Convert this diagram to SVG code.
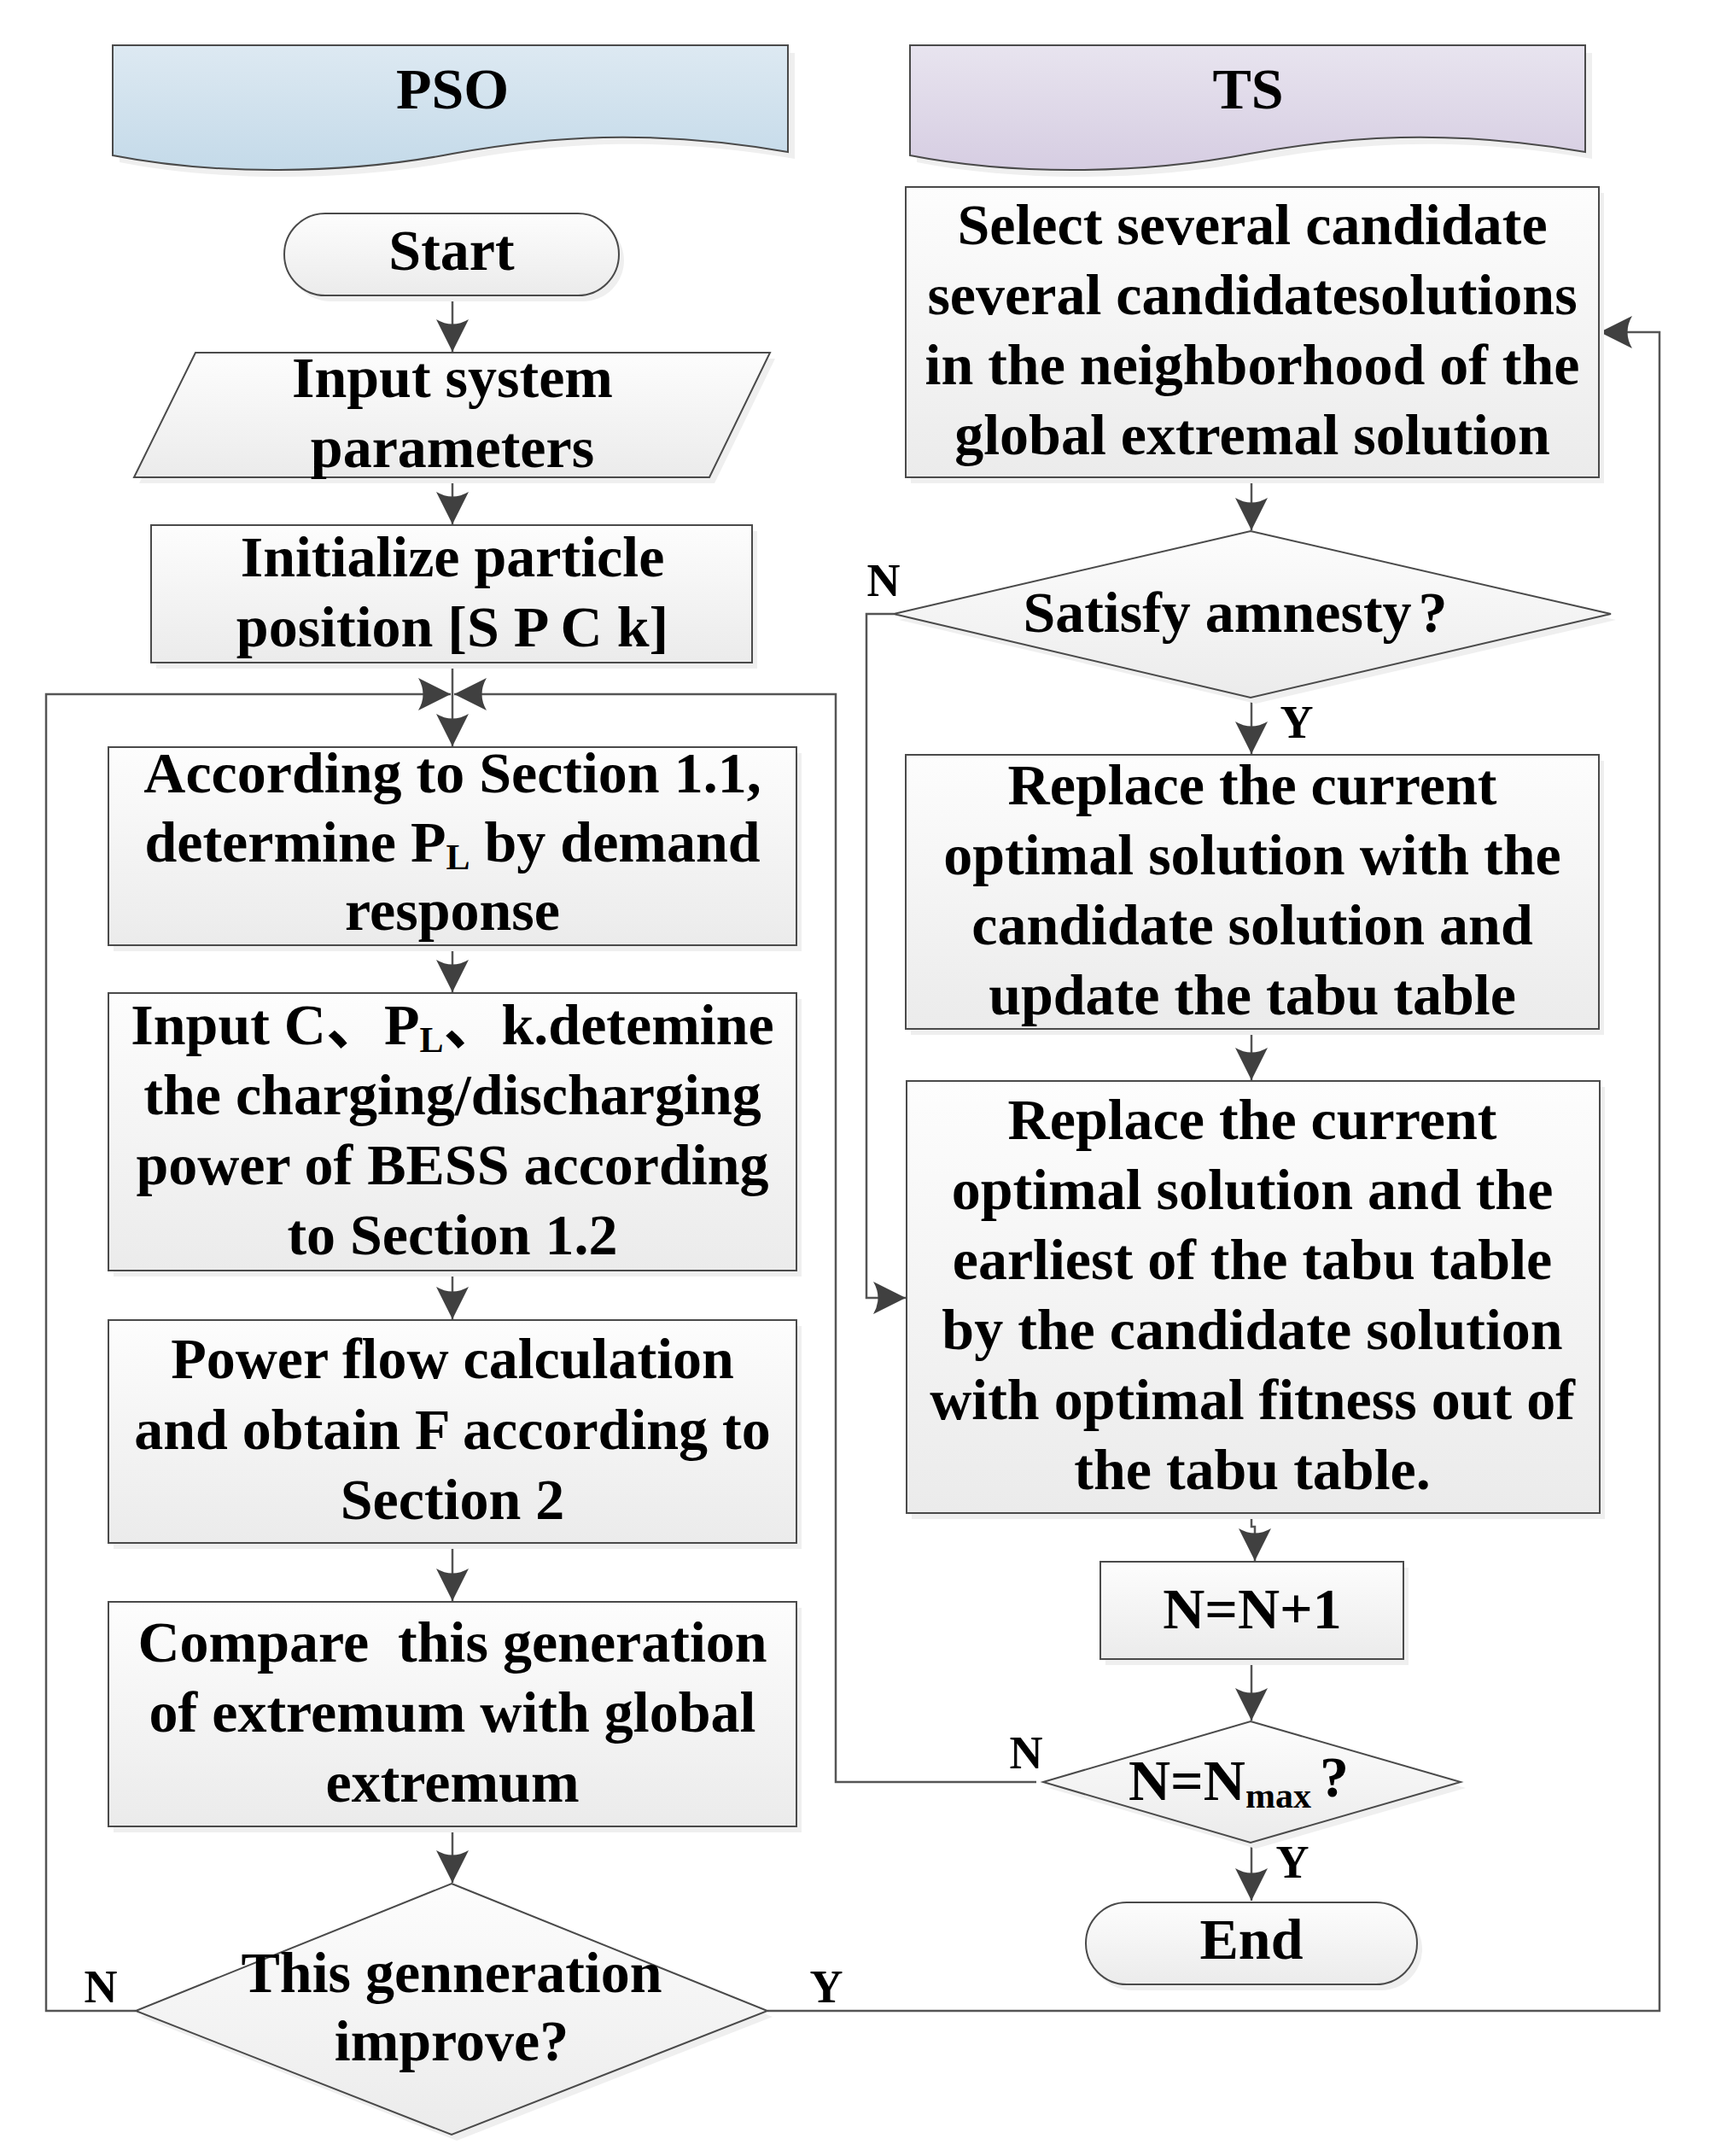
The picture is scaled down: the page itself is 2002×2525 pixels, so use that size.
<svg xmlns="http://www.w3.org/2000/svg" width="2002" height="2525" viewBox="0 0 2002 2525">
<defs>
<linearGradient id="gBox" x1="0" y1="0" x2="0" y2="1"><stop offset="0" stop-color="#fdfdfd"/><stop offset="1" stop-color="#ebebeb"/></linearGradient>
<linearGradient id="gPSO" x1="0" y1="0" x2="0" y2="1"><stop offset="0" stop-color="#dde9f2"/><stop offset="1" stop-color="#c4dae9"/></linearGradient>
<linearGradient id="gTS" x1="0" y1="0" x2="0" y2="1"><stop offset="0" stop-color="#e8e4ef"/><stop offset="1" stop-color="#d6cde2"/></linearGradient>
<marker id="ah" viewBox="-40 -20 42 40" markerWidth="42" markerHeight="40" refX="0" refY="0" orient="auto" markerUnits="userSpaceOnUse">
<path d="M0,0 L-38,-19 Q-27,0 -38,19 Z" fill="#404040"/>
</marker>
<style>
.box{fill:url(#gBox);stroke:#4a4a4a;stroke-width:2}
.sh{fill:#efefef;stroke:none}
.t{font-family:"Liberation Serif","Times New Roman",serif;font-weight:bold;font-size:68px;fill:#000;text-anchor:middle}
.cjk{font-family:"Liberation Serif","Times New Roman","Noto Sans CJK SC",serif}
.lab{font-family:"Liberation Serif","Times New Roman",serif;font-weight:bold;font-size:54px;fill:#000;text-anchor:middle}
.sub{font-size:42px}
.con{fill:none;stroke:#555;stroke-width:2.5}
.arr{marker-end:url(#ah)}
</style>
</defs>
<rect x="0" y="0" width="2002" height="2525" fill="#fff"/>

<g id="pso-header">
<path d="M140,62 H931 V186 C768,158 648,168 538,188 C408,213 258,213 140,190 Z" class="sh"/>
<path d="M132,53 H923 V178 C760,150 640,160 530,180 C400,205 250,205 132,182 Z" fill="url(#gPSO)" stroke="#4a4a4a" stroke-width="2"/>
<text class="t" x="530" y="127">PSO</text>
</g>
<g id="ts-header">
<path d="M1074,62 H1865 V186 C1702,158 1582,168 1472,188 C1342,213 1192,213 1074,190 Z" class="sh"/>
<path d="M1066,53 H1857 V178 C1694,150 1574,160 1464,180 C1334,205 1184,205 1066,182 Z" fill="url(#gTS)" stroke="#4a4a4a" stroke-width="2"/>
<text class="t" x="1462" y="127">TS</text>
</g>

<g id="connectors">
<path class="con arr" d="M530,346 V412"/>
<path class="con arr" d="M530,559 V614"/>
<path class="con arr" d="M530,776 V874"/>
<path class="con arr" d="M159,2355 H54 V813 H528"/>
<path class="con arr" d="M1214,2087 H979 V813 H532"/>
<path class="con arr" d="M530,1107 V1162"/>
<path class="con arr" d="M530,1488 V1545"/>
<path class="con arr" d="M530,1807 V1875"/>
<path class="con arr" d="M530,2139 V2205"/>
<path class="con arr" d="M899,2355 H1944 V389 H1874"/>
<path class="con arr" d="M1466,559 V621"/>
<path class="con arr" d="M1466,817 V883"/>
<path class="con arr" d="M1047,719 H1015 V1520 H1061"/>
<path class="con arr" d="M1466,1205 V1265"/>
<path class="con arr" d="M1466,1772 V1788 H1470 V1828"/>
<path class="con arr" d="M1466,1943 V2015"/>
<path class="con arr" d="M1466,2158 V2226"/>
</g>

<g id="start">
<rect x="339" y="257" width="392" height="96" rx="48" class="sh"/>
<rect x="333" y="250" width="392" height="96" rx="48" class="box"/>
<text class="t" x="529" y="316">Start</text>
</g>

<g id="input-params">
<path d="M235,420 H908 L837,566 H163 Z" class="sh"/>
<path d="M229,413 H902 L831,559 H157 Z" class="box"/>
<text class="t" x="530" y="465">Input system</text>
<text class="t" x="530" y="547">parameters</text>
</g>

<g id="initialize">
<rect x="183" y="622" width="704" height="161" class="sh"/>
<rect x="177" y="615" width="704" height="161" class="box"/>
<text class="t" x="530" y="675">Initialize particle</text>
<text class="t" x="530" y="757">position [S P C k]</text>
</g>

<g id="according">
<rect x="133" y="882" width="806" height="232" class="sh"/>
<rect x="127" y="875" width="806" height="232" class="box"/>
<text class="t" x="530" y="928">According to Section 1.1,</text>
<text class="t" x="530" y="1009">determine P<tspan class="sub" dy="9">L</tspan><tspan dy="-9"> by demand</tspan></text>
<text class="t" x="530" y="1089">response</text>
</g>

<g id="input-c">
<rect x="133" y="1170" width="806" height="325" class="sh"/>
<rect x="127" y="1163" width="806" height="325" class="box"/>
<text class="t cjk" x="530" y="1223">Input C、P<tspan class="sub" dy="9">L</tspan><tspan dy="-9">、k.detemine</tspan></text>
<text class="t" x="530" y="1305">the charging/discharging</text>
<text class="t" x="530" y="1387">power of BESS according</text>
<text class="t" x="530" y="1469">to Section 1.2</text>
</g>

<g id="power-flow">
<rect x="133" y="1553" width="806" height="261" class="sh"/>
<rect x="127" y="1546" width="806" height="261" class="box"/>
<text class="t" x="530" y="1614">Power flow calculation</text>
<text class="t" x="530" y="1697">and obtain F according to</text>
<text class="t" x="530" y="1779">Section 2</text>
</g>

<g id="compare">
<rect x="133" y="1883" width="806" height="263" class="sh"/>
<rect x="127" y="1876" width="806" height="263" class="box"/>
<text class="t" x="530" y="1946" xml:space="preserve">Compare  this generation</text>
<text class="t" x="530" y="2028">of extremum with global</text>
<text class="t" x="530" y="2110">extremum</text>
</g>

<g id="improve">
<path d="M535,2213 L905,2362 L535,2507 L165,2362 Z" class="sh"/>
<path d="M529,2206 L899,2355 L529,2500 L159,2355 Z" class="box"/>
<text class="t" x="529" y="2333">This genneration</text>
<text class="t" x="529" y="2413">improve?</text>
<text class="lab" x="118" y="2345">N</text>
<text class="lab" x="968" y="2345">Y</text>
</g>

<g id="select">
<rect x="1067" y="226" width="812" height="340" class="sh"/>
<rect x="1061" y="219" width="812" height="340" class="box"/>
<text class="t" x="1467" y="286">Select several candidate</text>
<text class="t" x="1467" y="368">several candidatesolutions</text>
<text class="t" x="1467" y="450">in the neighborhood of the</text>
<text class="t" x="1467" y="532">global extremal solution</text>
</g>

<g id="amnesty">
<path d="M1471,629 L1893,726 L1471,824 L1053,726 Z" class="sh"/>
<path d="M1465,622 L1887,719 L1465,817 L1047,719 Z" class="box"/>
<text class="t" x="1447" y="740">Satisfy amnesty<tspan dx="8">?</tspan></text>
<text class="lab" x="1035" y="698">N</text>
<text class="lab" x="1519" y="864">Y</text>
</g>

<g id="replace1">
<rect x="1067" y="891" width="812" height="321" class="sh"/>
<rect x="1061" y="884" width="812" height="321" class="box"/>
<text class="t" x="1467" y="942">Replace the current</text>
<text class="t" x="1467" y="1024">optimal solution with the</text>
<text class="t" x="1467" y="1106">candidate solution and</text>
<text class="t" x="1467" y="1188">update the tabu table</text>
</g>

<g id="replace2">
<rect x="1068" y="1273" width="812" height="506" class="sh"/>
<rect x="1062" y="1266" width="812" height="506" class="box"/>
<text class="t" x="1467" y="1334">Replace the current</text>
<text class="t" x="1467" y="1416">optimal solution and the</text>
<text class="t" x="1467" y="1498">earliest of the tabu table</text>
<text class="t" x="1467" y="1580">by the candidate solution</text>
<text class="t" x="1467" y="1662">with optimal fitness out of</text>
<text class="t" x="1467" y="1744">the tabu table.</text>
</g>

<g id="counter">
<rect x="1295" y="1836" width="355" height="114" class="sh"/>
<rect x="1289" y="1829" width="355" height="114" class="box"/>
<text class="t" x="1467" y="1907">N=N+1</text>
</g>

<g id="nmax">
<path d="M1471,2023 L1717,2094 L1471,2165 L1228,2094 Z" class="sh"/>
<path d="M1465,2016 L1711,2087 L1465,2158 L1222,2087 Z" class="box"/>
<text class="t" x="1322" y="2108" style="text-anchor:start">N=N<tspan class="sub" dy="9">max</tspan><tspan dx="10" dy="-13">?</tspan></text>
<text class="lab" x="1202" y="2071">N</text>
<text class="lab" x="1514" y="2199">Y</text>
</g>

<g id="end">
<rect x="1278" y="2235" width="388" height="96" rx="48" class="sh"/>
<rect x="1272" y="2228" width="388" height="96" rx="48" class="box"/>
<text class="t" x="1466" y="2294">End</text>
</g>
</svg>
